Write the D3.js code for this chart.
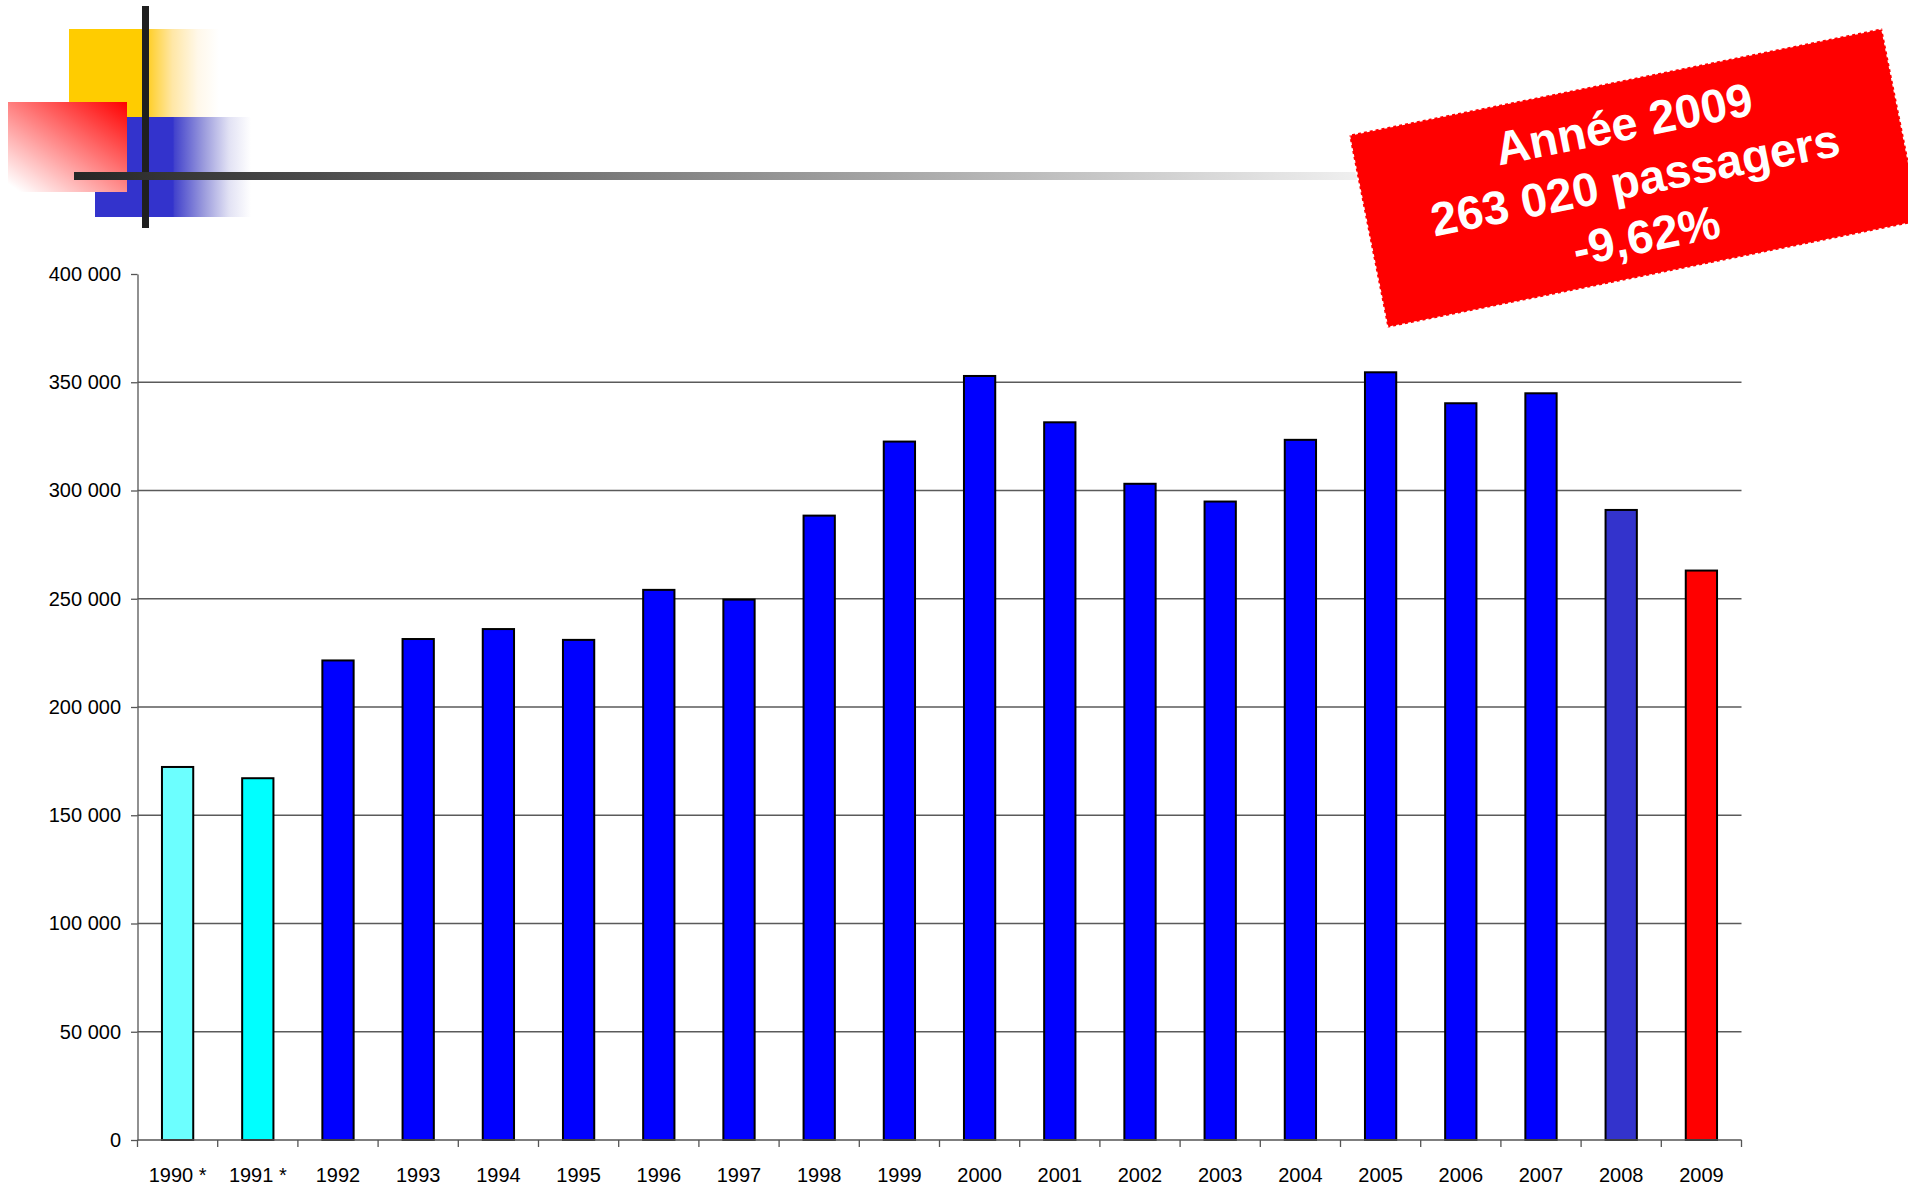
<!DOCTYPE html>
<html>
<head>
<meta charset="utf-8">
<script src="https://cdn.jsdelivr.net/npm/d3@7"></script>
<style>
  html, body { margin: 0; padding: 0; background: #fff; }
  svg { display: block; font-family: "Liberation Sans", Arial, sans-serif; }
</style>
</head>
<body>
<div id="chart"></div>
<script>
// passengers per year (1990 and 1991 marked with *)
const years = ['1990 *', '1991 *', '1992', '1993', '1994', '1995', '1996', '1997', '1998', '1999',
  '2000', '2001', '2002', '2003', '2004', '2005', '2006', '2007', '2008', '2009'];
const passengers = [172300, 167100, 221500, 231400, 236000, 231000, 254100, 249600, 288400, 322600,
  352900, 331500, 303100, 294900, 323400, 354600, 340300, 344900, 291016, 263020];
const yTicks = [0, 50000, 100000, 150000, 200000, 250000, 300000, 350000, 400000];
const stampTitle = 'Année 2009';

const barColors = { '1990 *': '#6CFFFF', '1991 *': '#00FFFF', '2008': '#3333CC', '2009': '#FF0000' };
const defaultBar = '#0000FF';

const width = 1908, height = 1188;
const plotLeft = 137.5, plotRight = 1741.5, plotBottom = 1140, plotTop = 274;

const fr = d3.formatLocale({ decimal: ',', thousands: ' ', grouping: [3], currency: ['', ' €'], minus: '-' });
const fmt = fr.format(',d');
const pct = fr.format('.2%');

const svg = d3.select('#chart').append('svg')
  .attr('width', width)
  .attr('height', height);

// ---- header decoration ----
const defs = svg.append('defs');
function grad(id, stops, attrs) {
  const g = defs.append('linearGradient').attr('id', id);
  Object.keys(attrs).forEach(k => g.attr(k, attrs[k]));
  stops.forEach(s => g.append('stop').attr('offset', s[0]).attr('stop-color', s[1]));
}
grad('gYellow', [[0, '#FFCC00'], [0.52, '#FFCC00'], [0.53, '#FFCF2A'], [0.69, '#FFE7A6'], [0.86, '#FFF8EA'], [1, '#FFFFFF']], { x1: 0, y1: 0, x2: 1, y2: 0 });
grad('gBlue', [[0, '#3333CC'], [0.5, '#3333CC'], [0.51, '#4343CC'], [0.7, '#9C9CDD'], [0.86, '#E2E2F4'], [1, '#FFFFFF']], { x1: 0, y1: 0, x2: 1, y2: 0 });
grad('gRed', [[0, '#FF0000'], [1, '#FFFFFF']], { x1: 1, y1: 0, x2: 0.1, y2: 1 });
grad('gLine', [[0, '#262626'], [1, '#F0F0F0']], { gradientUnits: 'userSpaceOnUse', x1: 74, y1: 0, x2: 1360, y2: 0 });

svg.append('rect').attr('x', 69).attr('y', 29).attr('width', 150).attr('height', 88).attr('fill', 'url(#gYellow)');
svg.append('rect').attr('x', 95).attr('y', 117).attr('width', 156).attr('height', 100).attr('fill', 'url(#gBlue)');
svg.append('rect').attr('x', 8).attr('y', 102).attr('width', 119).attr('height', 90).attr('fill', 'url(#gRed)');
svg.append('rect').attr('x', 142).attr('y', 6).attr('width', 7).attr('height', 222).attr('fill', '#1f1f1f');
svg.append('rect').attr('x', 74).attr('y', 172).attr('width', 1286).attr('height', 8).attr('fill', 'url(#gLine)');

// ---- scales ----
const x = d3.scaleBand()
  .domain(years)
  .range([plotLeft, plotRight])
  .paddingInner(0.61)
  .paddingOuter(0.305);

const y = d3.scaleLinear()
  .domain([0, 400000])
  .range([plotBottom, plotTop]);

// gridlines (not at the top value)
svg.append('g')
  .selectAll('line')
  .data(yTicks.filter(v => v > 0 && v < 400000))
  .enter().append('line')
  .attr('x1', plotLeft).attr('x2', plotRight)
  .attr('y1', d => y(d)).attr('y2', d => y(d))
  .attr('stroke', '#5a5a5a')
  .attr('stroke-width', 1.3);

// bars
svg.append('g')
  .selectAll('rect')
  .data(years)
  .enter().append('rect')
  .attr('x', d => x(d))
  .attr('width', x.bandwidth())
  .attr('y', (d, i) => y(passengers[i]))
  .attr('height', (d, i) => plotBottom - y(passengers[i]))
  .attr('fill', d => barColors[d] || defaultBar)
  .attr('stroke', '#000')
  .attr('stroke-width', 2);

// y axis
const yAxis = svg.append('g')
  .attr('transform', 'translate(' + plotLeft + ',0)')
  .call(d3.axisLeft(y).tickValues(yTicks).tickFormat(fmt).tickSize(6.5).tickPadding(10).tickSizeOuter(0));
yAxis.select('.domain').attr('stroke', '#555').attr('stroke-width', 1.3);
yAxis.selectAll('.tick line').attr('stroke', '#555').attr('stroke-width', 1.3);
yAxis.selectAll('text')
  .attr('font-size', 20)
  .attr('font-family', '"Liberation Sans", Arial, sans-serif')
  .attr('fill', '#000');

// x axis
const xAxis = svg.append('g')
  .attr('transform', 'translate(0,' + plotBottom + ')')
  .call(d3.axisBottom(x).tickSize(0).tickPadding(27.8));
xAxis.select('.domain').remove();
xAxis.selectAll('text')
  .attr('font-size', 20)
  .attr('font-family', '"Liberation Sans", Arial, sans-serif')
  .attr('fill', '#000');

svg.append('line')
  .attr('x1', plotLeft).attr('x2', plotRight)
  .attr('y1', plotBottom).attr('y2', plotBottom)
  .attr('stroke', '#555').attr('stroke-width', 1.3);

const bounds = years.map(d => x(d) + x.bandwidth() / 2 - x.step() / 2);
bounds.push(x(years[years.length - 1]) + x.bandwidth() / 2 + x.step() / 2);
svg.append('g')
  .selectAll('line')
  .data(bounds)
  .enter().append('line')
  .attr('x1', d => d).attr('x2', d => d)
  .attr('y1', plotBottom).attr('y2', plotBottom + 7)
  .attr('stroke', '#555').attr('stroke-width', 1.3);

// ---- red stamp ----
const last = passengers[passengers.length - 1];
const prev = passengers[passengers.length - 2];
const stampLines = [stampTitle, fmt(last) + ' passagers', pct((last - prev) / prev)];

const stamp = svg.append('g')
  .attr('transform', 'translate(1634.8,178.1) rotate(-11.3)');
stamp.append('rect')
  .attr('x', -271.8).attr('y', -98.4)
  .attr('width', 543.6).attr('height', 196.7)
  .attr('fill', '#FF0000')
  .attr('stroke', '#fff')
  .attr('stroke-width', 2)
  .attr('stroke-dasharray', '3 3');
stamp.selectAll('text')
  .data(stampLines)
  .enter().append('text')
  .attr('x', 0)
  .attr('y', (d, i) => -39 + i * 57)
  .attr('text-anchor', 'middle')
  .attr('font-size', 47)
  .attr('font-weight', 'bold')
  .attr('fill', '#fff')
  .text(d => d);
</script>
</body>
</html>
